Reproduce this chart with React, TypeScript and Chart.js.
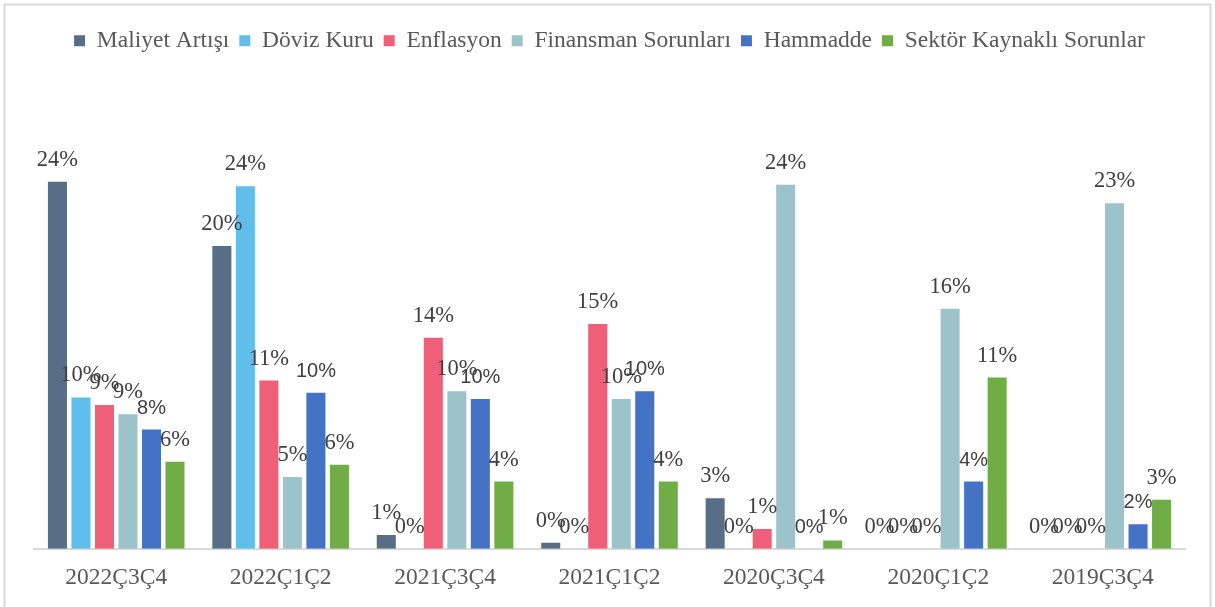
import React, { useEffect, useRef } from "react";
import { Chart, registerables } from "chart.js";

Chart.register(...registerables);

const categories = ["2022Ç3Ç4", "2022Ç1Ç2", "2021Ç3Ç4", "2021Ç1Ç2", "2020Ç3Ç4", "2020Ç1Ç2", "2019Ç3Ç4"];
const seriesNames = ["Maliyet Artışı", "Döviz Kuru", "Enflasyon", "Finansman Sorunları", "Hammadde", "Sektör Kaynaklı Sorunlar"];
const maliyet = [24.0, 19.8, 0.9, 0.4, 3.3, 0, 0];
const doviz = [9.9, 23.7, 0, 0, 0, 0, 0];
const enflasyon = [9.4, 11.0, 13.8, 14.7, 1.3, 0, 0];
const finansman = [8.8, 4.7, 10.3, 9.8, 23.8, 15.7, 22.6];
const hammadde = [7.8, 10.2, 9.8, 10.3, 0, 4.4, 1.6];
const sektor = [5.7, 5.5, 4.4, 4.4, 0.55, 11.2, 3.2];
const colors = ["#586e86", "#5fbfea", "#ef5f78", "#9dc3ca", "#4472c4", "#70ad47"];

const FONT = "'Liberation Serif', 'Times New Roman', serif";
const SANS = "'Liberation Sans', Arial, sans-serif";

const framePlugin = {
  id: "frame",
  beforeDraw(chart: any) {
    const ctx = chart.ctx;
    ctx.save();
    ctx.fillStyle = "#ffffff";
    ctx.fillRect(0, 0, chart.width, chart.height);
    ctx.strokeStyle = "#d9d9d9";
    ctx.lineWidth = 2;
    ctx.strokeRect(4.5, 4.5, chart.width - 9, chart.height + 100);
    ctx.restore();
  },
};

const labelPlugin = {
  id: "valueLabels",
  afterDatasetsDraw(chart: any) {
    const ctx = chart.ctx;
    ctx.save();
    ctx.fillStyle = "#404040";
    ctx.textAlign = "center";
    ctx.textBaseline = "alphabetic";
    chart.data.datasets.forEach((ds: any, i: number) => {
      const meta = chart.getDatasetMeta(i);
      ctx.font = ds.label === "Hammadde" ? `20px ${SANS}` : `22.5px ${FONT}`;
      meta.data.forEach((el: any, j: number) => {
        const v = ds.data[j];
        ctx.fillText(Math.round(v) + "%", el.x, el.y - 16);
      });
    });
    ctx.restore();
  },
};

export default function App() {
  const ref = useRef<HTMLCanvasElement | null>(null);
  useEffect(() => {
    document.body.style.margin = "0";
    const allData = [maliyet, doviz, enflasyon, finansman, hammadde, sektor];
    const chart = new Chart(ref.current as HTMLCanvasElement, {
      type: "bar",
      data: {
        labels: categories,
        datasets: seriesNames.map((name, i) => ({
          label: name,
          data: allData[i],
          backgroundColor: colors[i],
          borderWidth: 0,
          categoryPercentage: 0.858,
          barPercentage: 0.81,
        })),
      },
      options: {
        responsive: false,
        animation: false,
        layout: { padding: { top: 19, left: 34, right: 30, bottom: 0 } },
        plugins: {
          legend: {
            position: "top",
            labels: {
              boxWidth: 11,
              boxHeight: 11,
              padding: 10,
              color: "#595959",
              font: { family: FONT, size: 23.5 },
            },
          },
          tooltip: { enabled: false },
        },
        scales: {
          x: {
            grid: { display: false, drawTicks: false },
            border: { display: true, color: "#d9d9d9", width: 2 },
            ticks: {
              color: "#595959",
              font: { family: FONT, size: 23.5 },
              padding: 15,
            },
          },
          y: {
            display: false,
            min: 0,
            max: 31.8,
          },
        },
      },
      plugins: [framePlugin, labelPlugin],
    });
    return () => chart.destroy();
  }, []);
  return (
    <div style={{ position: "absolute", left: 0, top: 0, width: 1215, height: 607 }}>
      <canvas ref={ref} width={1215} height={607} style={{ display: "block" }} />
    </div>
  );
}
